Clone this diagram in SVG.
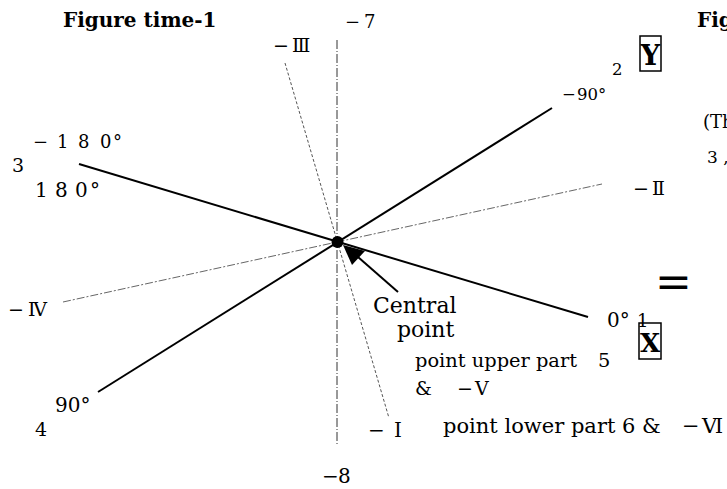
<svg xmlns="http://www.w3.org/2000/svg" width="727" height="489" viewBox="0 0 727 489">
<style>
.t{font-family:"DejaVu Serif","Noto Sans CJK JP",serif;fill:#000}
.b{font-family:"DejaVu Serif","Liberation Serif",serif;font-weight:bold;fill:#000}
.solid{stroke:#000;stroke-width:2;fill:none}
.axis{stroke:#333;stroke-width:1;stroke-dasharray:9 2 1 2;fill:none}
.dot1{stroke:#555;stroke-width:1;stroke-dasharray:3 2;fill:none}
.dash2{stroke:#666;stroke-width:1;stroke-dasharray:8 2 2 2;fill:none}
.box{fill:none;stroke:#000;stroke-width:1.5}
</style>
<rect width="727" height="489" fill="#fff"/>
<g id="connectors">
  <line class="axis" x1="337" y1="40" x2="337" y2="445"/>
  <line class="dot1" x1="285" y1="63" x2="389" y2="418"/>
  <line class="dash2" x1="63" y1="302" x2="602" y2="184"/>
  <line class="solid" x1="79" y1="164" x2="588" y2="317"/>
  <line class="solid" x1="98" y1="392" x2="552" y2="108"/>
  <line class="solid" x1="398" y1="292" x2="358" y2="257"/>
  <polygon points="343,245 352,265 365,251" fill="#000"/>
</g>
<g id="center"><circle cx="337.5" cy="242" r="6" fill="#000"/></g>
<g id="titles">
  <text class="b" x="63" y="27" font-size="20">Figure time-1</text>
  <text class="b" x="697" y="27" font-size="20">Fig</text>
</g>
<g id="box-y">
  <rect class="box" x="640" y="36" width="21" height="35"/>
  <text class="b" x="650.5" y="65" font-size="27" text-anchor="middle">Y</text>
</g>
<g id="box-x">
  <rect class="box" x="639" y="323" width="22" height="36"/>
  <text class="b" x="650" y="352" font-size="26" text-anchor="middle">X</text>
</g>
<g id="labels">
  <text class="t" x="345 364" y="28" font-size="18">−7</text>
  <text class="t" x="273 292" y="52" font-size="19">−Ⅲ</text>
  <text class="t" x="612" y="75" font-size="16.5">2</text>
  <text class="t" x="562 577" y="100" font-size="16.5">−90°</text>
  <text class="t" x="703" y="128" font-size="18">(Th</text>
  <text class="t" x="707" y="163" font-size="17">3 ,</text>
  <text class="t" x="633 652" y="195" font-size="19">−Ⅱ</text>
  <text class="t" x="33 57 78 100 113" y="148" font-size="18">−180°</text>
  <text class="t" x="12" y="172" font-size="19">3</text>
  <text class="t" x="35 55 75 90" y="197" font-size="20">180°</text>
  <text class="t" x="8 28" y="316" font-size="19">−Ⅳ</text>
  <text class="t" x="55" y="412" font-size="20">90°</text>
  <text class="t" x="35" y="436" font-size="19">4</text>
  <text class="t" x="607" y="327" font-size="20">0°</text>
  <text class="t" x="637" y="327" font-size="18">1</text>
  <text class="t" x="655" y="297" font-size="44">=</text>
  <text class="t" x="368 394" y="437" font-size="20">−Ⅰ</text>
  <text class="t" x="322 338" y="483" font-size="20">−8</text>
</g>
<g id="central-point">
  <text class="t" x="373" y="313" font-size="22">Central</text>
  <text class="t" x="397" y="337" font-size="22">point</text>
</g>
<g id="upper-part">
  <text class="t" y="367" font-size="19.4"><tspan x="415">point upper part</tspan><tspan x="598">5</tspan></text>
  <text class="t" y="395" font-size="19"><tspan x="415">&amp;</tspan><tspan x="457">−</tspan><tspan x="475">Ⅴ</tspan></text>
</g>
<g id="lower-part">
  <text class="t" y="433" font-size="21"><tspan x="443">point lower part 6 &amp;</tspan><tspan x="682">−</tspan><tspan x="702">Ⅵ</tspan></text>
</g>
</svg>
